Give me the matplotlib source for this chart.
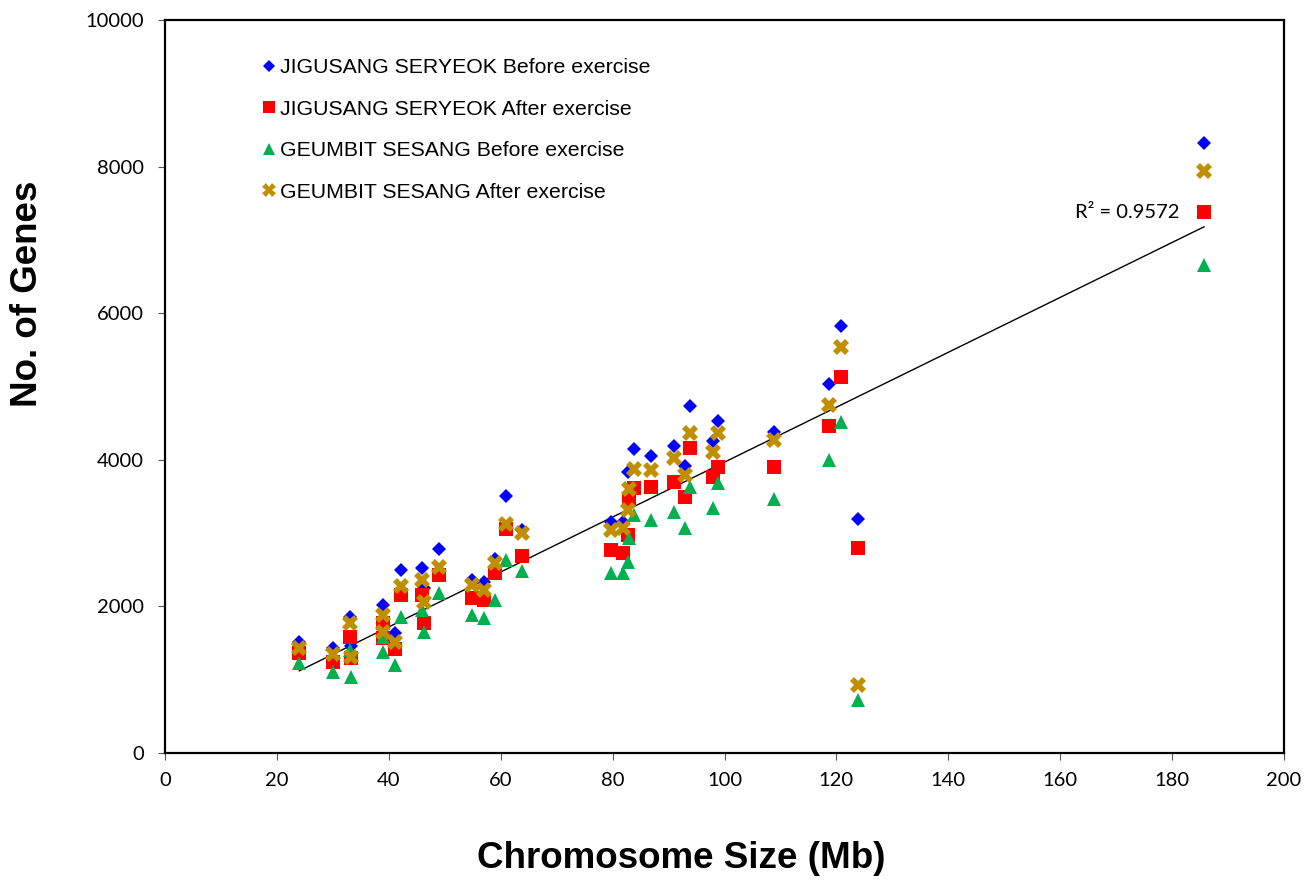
import numpy as np
import matplotlib
matplotlib.use("Agg")
import matplotlib.pyplot as plt

# Chromosome sizes (Mb)
chrom_size = [24.0, 30.0, 33.0, 33.3, 39.0, 39.0, 41.1, 42.2, 46.0, 46.3, 49.0, 54.8,
              57.0, 59.0, 61.0, 63.8, 79.8, 81.9, 82.8, 83.0, 83.8, 86.9, 90.9, 92.9,
              93.8, 97.9, 98.8, 108.8, 118.7, 120.8, 123.9, 185.7]

jig_before = [1520, 1430, 1860, 1460, 2019, 1700, 1640, 2500, 2520, 2250, 2780, 2360,
              2337, 2642, 3506, 3042, 3156, 3156, 3838, 3500, 4143, 4052, 4188, 3915,
              4734, 4250, 4534, 4379, 5034, 5825, 3192, 8318]
jig_after = [1364, 1245, 1587, 1300, 1769, 1564, 1420, 2160, 2160, 1769, 2429, 2110,
             2087, 2451, 3056, 2688, 2769, 2724, 2974, 3451, 3611, 3634, 3701, 3497,
             4157, 3770, 3907, 3902, 4461, 5126, 2792, 7385]
geu_before = [1228, 1110, 1405, 1041, 1587, 1382, 1200, 1860, 1950, 1655, 2179, 1883,
              1837, 2087, 2633, 2483, 2451, 2451, 2610, 2929, 3247, 3179, 3292, 3065,
              3633, 3338, 3679, 3465, 3997, 4520, 723, 6658]
geu_after = [1430, 1350, 1769, 1314, 1883, 1655, 1518, 2280, 2360, 2064, 2542, 2292,
             2224, 2588, 3124, 3001, 3042, 3065, 3315, 3597, 3868, 3861, 4020, 3793,
             4361, 4111, 4361, 4270, 4748, 5535, 928, 7945]

labels = ["JIGUSANG SERYEOK Before exercise", "JIGUSANG SERYEOK After exercise",
          "GEUMBIT SESANG Before exercise", "GEUMBIT SESANG After exercise"]
r2_text = "R² = 0.9572"

x_ticks = list(range(0, 201, 20))
y_ticks = list(range(0, 10001, 2000))

fig = plt.figure(figsize=(13.06, 8.86), dpi=100)
ax = fig.add_axes([165/1306, 1-753/886, (1284-165)/1306, (753-20)/886])

series = [
    (jig_before, "D", "#0000FF", 7.6),
    (jig_after, "s", "#FF0000", 10.5),
    (geu_before, "^", "#00B050", 10.5),
    (geu_after, "X", "#BF8F00", 11.5),
]
handles = []
for (vals, m, c, ms), lab in zip(series, labels):
    h, = ax.plot(chrom_size, vals, linestyle="none", marker=m, color=c,
                 markersize=ms, markeredgewidth=0, label=lab)
    handles.append(h)

# Linear trendline (autosomes of the JIGUSANG SERYEOK after-exercise series)
xs = np.array(chrom_size)
ys = np.array(jig_after)
mask = np.abs(xs - 123.9) > 0.01
k, b = np.polyfit(xs[mask], ys[mask], 1)
xl = np.array([xs.min(), xs.max()])
ax.plot(xl, k * xl + b, color="black", linewidth=1.0, zorder=1.5)

ax.text(0.907, 0.7367, r2_text, transform=ax.transAxes, ha="right", va="center",
        fontsize=14.5, family="Lato")

ax.set_xlim(0, 200)
ax.set_ylim(0, 10000)
ax.set_xticks(x_ticks)
ax.set_yticks(y_ticks)
for sp in ax.spines.values():
    sp.set_linewidth(1.6)
    sp.set_color("black")
ax.tick_params(direction="out", length=5, width=0.8, color="#555555", labelsize=14.5)
ax.tick_params(axis="x", pad=8.5)
ax.tick_params(axis="y", pad=10)
for lbl in ax.get_xticklabels() + ax.get_yticklabels():
    lbl.set_family("Lato")

leg = ax.legend(handles=handles, loc="upper left", bbox_to_anchor=(0.0872, 0.948),
                frameon=False, handlelength=0.6, handletextpad=0.22,
                labelspacing=1.06, borderpad=0, borderaxespad=0, markerscale=0.85,
                prop={"family": "Liberation Sans", "size": 15.3})

fig.text(28/1306, 1-294/886, "No. of Genes", rotation=90, ha="center", va="center",
         fontsize=26.5, fontweight="bold", family="Liberation Sans")
fig.text(681/1306, 1-858/886, "Chromosome Size (Mb)", ha="center", va="center",
         fontsize=26.5, fontweight="bold", family="Liberation Sans")

fig.savefig("out.png", dpi=100)
